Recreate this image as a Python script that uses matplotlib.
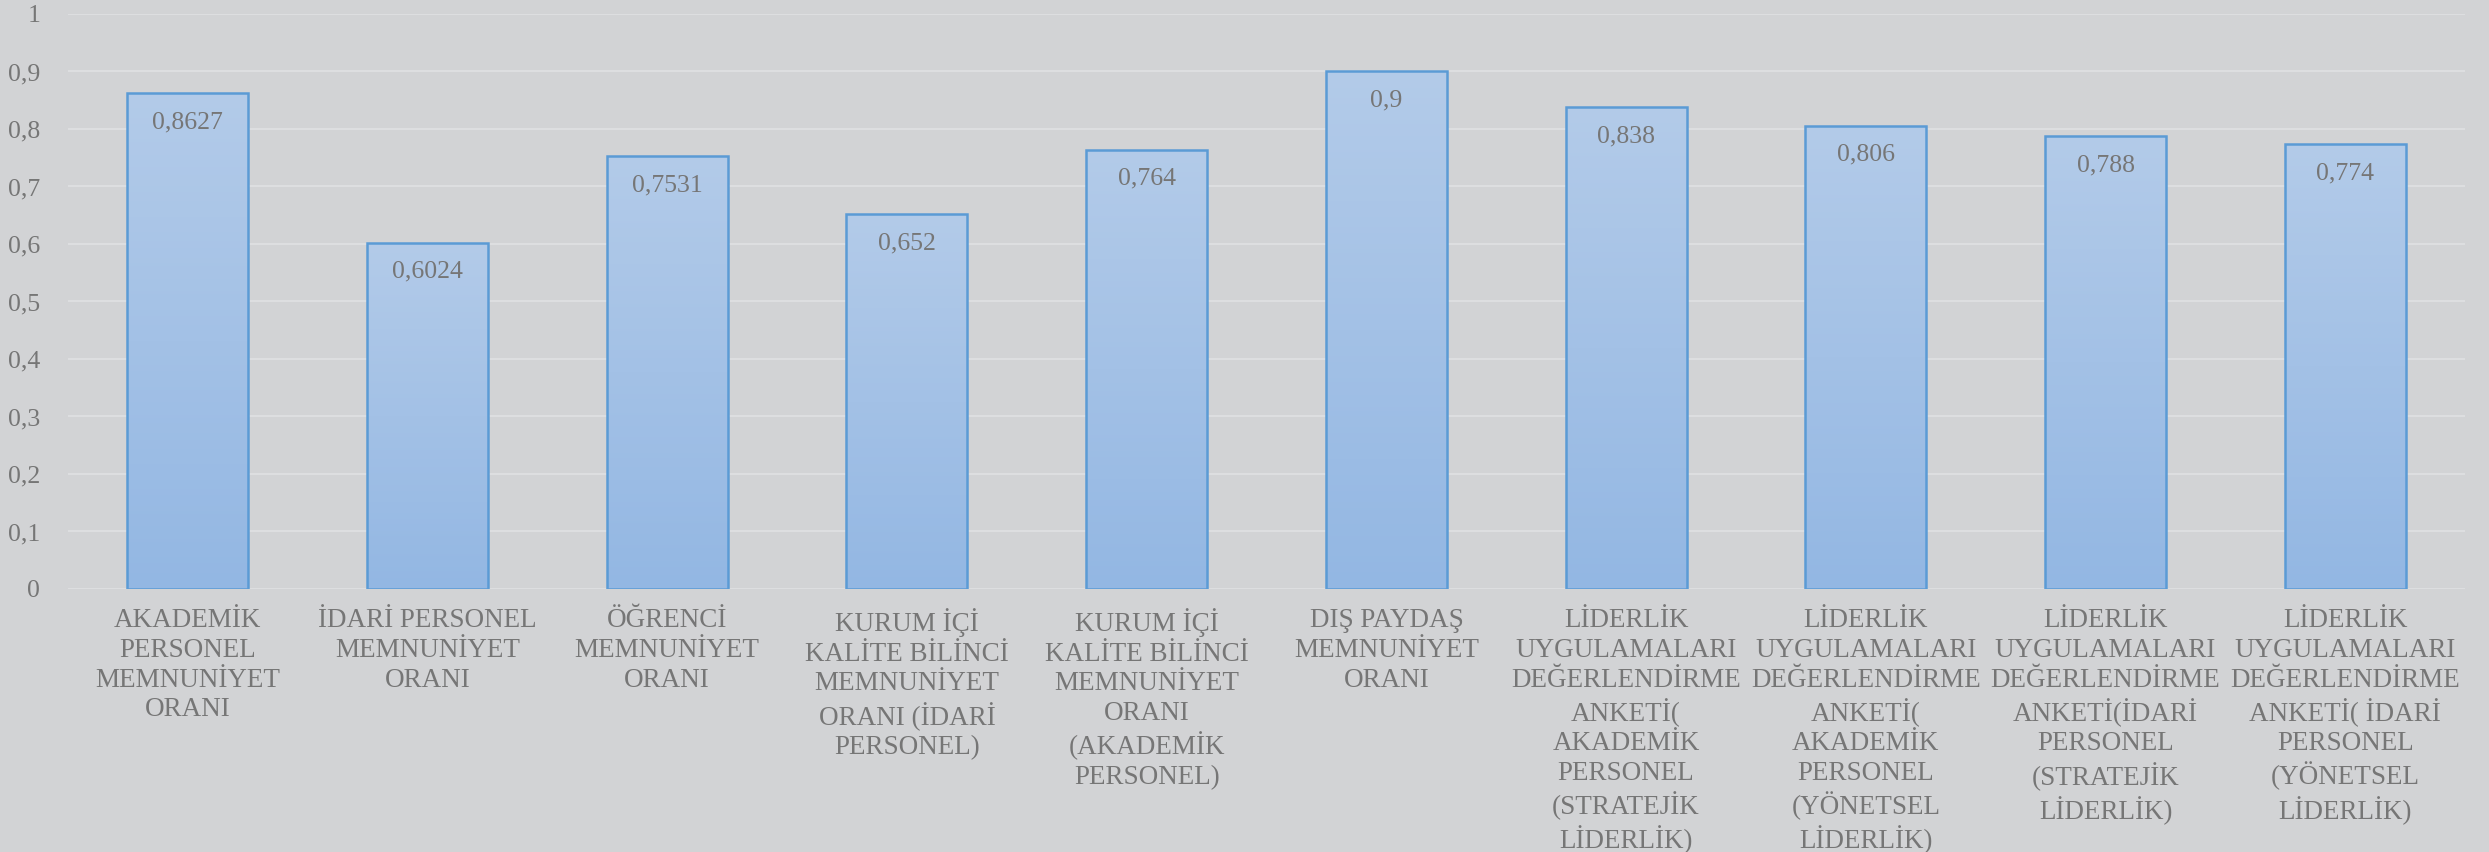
import numpy as np
import matplotlib
matplotlib.use("Agg")
import matplotlib.pyplot as plt
from matplotlib.ticker import FuncFormatter, MultipleLocator
from matplotlib.colors import LinearSegmentedColormap

categories = [
    "AKADEMİK\nPERSONEL\nMEMNUNİYET\nORANI",
    "İDARİ PERSONEL\nMEMNUNİYET\nORANI",
    "ÖĞRENCİ\nMEMNUNİYET\nORANI",
    "KURUM İÇİ\nKALİTE BİLİNCİ\nMEMNUNİYET\nORANI (İDARİ\nPERSONEL)",
    "KURUM İÇİ\nKALİTE BİLİNCİ\nMEMNUNİYET\nORANI\n(AKADEMİK\nPERSONEL)",
    "DIŞ PAYDAŞ\nMEMNUNİYET\nORANI",
    "LİDERLİK\nUYGULAMALARI\nDEĞERLENDİRME\nANKETİ(\nAKADEMİK\nPERSONEL\n(STRATEJİK\nLİDERLİK)",
    "LİDERLİK\nUYGULAMALARI\nDEĞERLENDİRME\nANKETİ(\nAKADEMİK\nPERSONEL\n(YÖNETSEL\nLİDERLİK)",
    "LİDERLİK\nUYGULAMALARI\nDEĞERLENDİRME\nANKETİ(İDARİ\nPERSONEL\n(STRATEJİK\nLİDERLİK)",
    "LİDERLİK\nUYGULAMALARI\nDEĞERLENDİRME\nANKETİ( İDARİ\nPERSONEL\n(YÖNETSEL\nLİDERLİK)",
]
values = [0.8627, 0.6024, 0.7531, 0.652, 0.764, 0.9, 0.838, 0.806, 0.788, 0.774]
value_labels = ["0,8627", "0,6024", "0,7531", "0,652", "0,764", "0,9", "0,838", "0,806", "0,788", "0,774"]

BG = "#D2D3D5"
GRID = "#DDDEE0"
TEXT = "#767676"
EDGE = "#5B9BD5"
TOP_C = "#B3CBE9"
BOT_C = "#93B7E3"

plt.rcParams['font.family'] = ['Liberation Serif', 'DejaVu Serif']

fig = plt.figure(figsize=(24.89, 8.52), dpi=100, facecolor=BG)
ax = fig.add_axes([0.0273, 0.3087, 0.9631, 0.6749])
ax.set_facecolor(BG)

x = np.arange(len(values))
bars = ax.bar(x, values, width=0.505, color="none", edgecolor=EDGE, linewidth=1.8, zorder=3)

cmap = LinearSegmentedColormap.from_list("grad", [BOT_C, TOP_C])
grad = np.linspace(0, 1, 256).reshape(-1, 1)
for b in bars:
    bx, by = b.get_x(), b.get_y()
    bw, bh = b.get_width(), b.get_height()
    im = ax.imshow(grad, cmap=cmap, aspect="auto", origin="lower",
                   extent=[bx, bx + bw, by, by + bh], zorder=2)
    im.set_clip_path(b)

for b, lab in zip(bars, value_labels):
    ax.annotate(lab, (b.get_x() + b.get_width() / 2, b.get_height()),
                xytext=(0, -21), textcoords="offset points",
                ha="center", va="center", fontsize=18.5, color=TEXT, zorder=4)

ax.set_xlim(-0.5, len(values) - 0.5)
ax.set_ylim(0, 1)
ax.yaxis.set_major_locator(MultipleLocator(0.1))

def fmt(v, pos):
    if abs(v) < 1e-9:
        return "0"
    if abs(v - 1) < 1e-9:
        return "1"
    return f"{v:.1f}".replace(".", ",")

ax.yaxis.set_major_formatter(FuncFormatter(fmt))
ax.grid(axis="y", color=GRID, linewidth=1.5, zorder=0)
ax.set_axisbelow(True)
ax.set_xticks(x)
ax.set_xticklabels(categories, fontsize=19.5, color=TEXT, linespacing=1.24)
ax.tick_params(axis="x", length=0, pad=14)
ax.tick_params(axis="y", length=0, pad=20, labelsize=18.5, labelcolor=TEXT)
for s in ax.spines.values():
    s.set_visible(False)
ax.axhline(0, color=GRID, linewidth=1.5, zorder=1)

fig.savefig("out.png", dpi=100, facecolor=BG)
